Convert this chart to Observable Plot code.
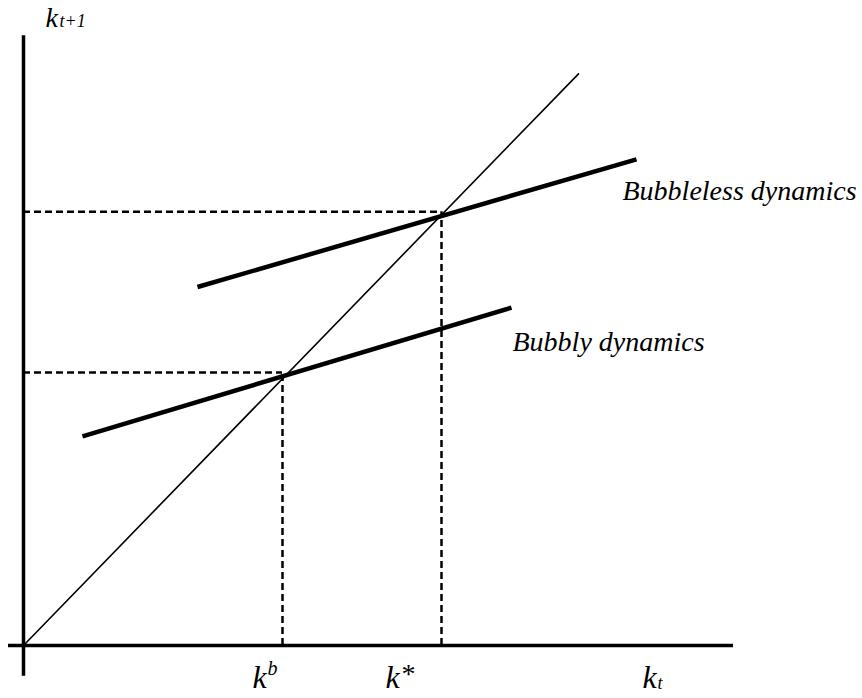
<!DOCTYPE html>
<html>
<head>
<meta charset="utf-8">
<script src="https://cdn.jsdelivr.net/npm/d3@7"></script>
<script src="https://cdn.jsdelivr.net/npm/@observablehq/plot@0.6"></script>
<style>
  html, body { margin: 0; padding: 0; background: #fff; }
  #chart svg text { font-family: "Liberation Serif", "DejaVu Serif", serif; }
</style>
</head>
<body>
<div id="chart"></div>
<script>
// ---- data (model units) ----
const steadyK = [259, 418];      // k^b, k* on the k_t axis
const steadyKNext = [265, 421];  // matching k_{t+1} levels of the guides
const diagX = [0, 555];          // 45-degree line k_{t+1} = k_t
const bubblelessX = [174, 613];
const bubblelessY = [348, 472];
const bubblyX = [59, 488];
const bubblyY = [203, 328];
const xAxisExtent = [-15, 710];
const yAxisExtent = [-30, 592];
const seriesLabels = ["Bubbleless dynamics", "Bubbly dynamics"];

const toPts = (xs, ys) => xs.map((x, i) => ({x, y: ys[i]}));
const guides = toPts(steadyK, steadyKNext);
const [kb, kstar] = steadyK;
const font = "'Liberation Serif', serif";

const chart = Plot.plot({
  width: 862,
  height: 698,
  marginTop: 0, marginRight: 0, marginBottom: 0, marginLeft: 0,
  style: {fontFamily: "'Liberation Serif', serif", background: "white"},
  x: {domain: [-23, 839], axis: null},
  y: {domain: [-51.5, 626.2], axis: null},
  marks: [
    // axes
    Plot.ruleY([0], {x1: xAxisExtent[0], x2: xAxisExtent[1], stroke: "black", strokeWidth: 3.5}),
    Plot.ruleX([0], {y1: yAxisExtent[0], y2: yAxisExtent[1], stroke: "black", strokeWidth: 3.5}),
    // dashed guides
    Plot.ruleY(guides, {y: "y", x1: 0, x2: "x", stroke: "black", strokeWidth: 2.5, strokeDasharray: "7,4"}),
    Plot.ruleX(guides, {x: "x", y1: 0, y2: "y", stroke: "black", strokeWidth: 2.5, strokeDasharray: "7,4"}),
    // 45-degree line
    Plot.line(toPts(diagX, diagX), {x: "x", y: "y", stroke: "black", strokeWidth: 1.6}),
    // dynamics
    Plot.line(toPts(bubblelessX, bubblelessY), {x: "x", y: "y", stroke: "black", strokeWidth: 4.5, strokeLinecap: "butt"}),
    Plot.line(toPts(bubblyX, bubblyY), {x: "x", y: "y", stroke: "black", strokeWidth: 4.5, strokeLinecap: "butt"}),
    // series labels
    Plot.text([seriesLabels[0]], {x: bubblelessX[1], y: bubblelessY[1], dx: -14, dy: 41, text: d => d,
      textAnchor: "start", lineAnchor: "bottom", fontFamily: font, fontStyle: "italic", fontSize: 28, fill: "black"}),
    Plot.text([seriesLabels[1]], {x: bubblyX[1], y: bubblyY[1], dx: 1, dy: 43, text: d => d,
      textAnchor: "start", lineAnchor: "bottom", fontFamily: font, fontStyle: "italic", fontSize: 28, fill: "black"}),
    // y-axis label k_{t+1}
    Plot.text(["k"], {x: 0, y: yAxisExtent[1], dx: 22, dy: -9, text: d => d, textAnchor: "start", lineAnchor: "bottom",
      fontFamily: font, fontStyle: "italic", fontSize: 28, fill: "black"}),
    Plot.text(["t+1"], {x: 0, y: yAxisExtent[1], dx: 36, dy: -9, text: d => d, textAnchor: "start", lineAnchor: "bottom",
      fontFamily: font, fontStyle: "italic", fontSize: 18, fill: "black"}),
    // x labels k^b, k*
    Plot.text(["k"], {x: kb, y: 0, dx: -30, dy: 43, text: d => d, textAnchor: "start", lineAnchor: "bottom",
      fontFamily: font, fontStyle: "italic", fontSize: 32, fill: "black"}),
    Plot.text(["b"], {x: kb, y: 0, dx: -15, dy: 30, text: d => d, textAnchor: "start", lineAnchor: "bottom",
      fontFamily: font, fontStyle: "italic", fontSize: 20, fill: "black"}),
    Plot.text(["k"], {x: kstar, y: 0, dx: -56, dy: 43, text: d => d, textAnchor: "start", lineAnchor: "bottom",
      fontFamily: font, fontStyle: "italic", fontSize: 32, fill: "black"}),
    Plot.text(["*"], {x: kstar, y: 0, dx: -40, dy: 38, text: d => d, textAnchor: "start", lineAnchor: "bottom",
      fontFamily: font, fontStyle: "normal", fontSize: 28, fill: "black"}),
    // x-axis label k_t
    Plot.text(["k"], {x: xAxisExtent[1], y: 0, dx: -91, dy: 43, text: d => d, textAnchor: "start", lineAnchor: "bottom",
      fontFamily: font, fontStyle: "italic", fontSize: 32, fill: "black"}),
    Plot.text(["t"], {x: xAxisExtent[1], y: 0, dx: -76, dy: 44, text: d => d, textAnchor: "start", lineAnchor: "bottom",
      fontFamily: font, fontStyle: "italic", fontSize: 18, fill: "black"})
  ]
});
document.getElementById("chart").appendChild(chart);
</script>
</body>
</html>
